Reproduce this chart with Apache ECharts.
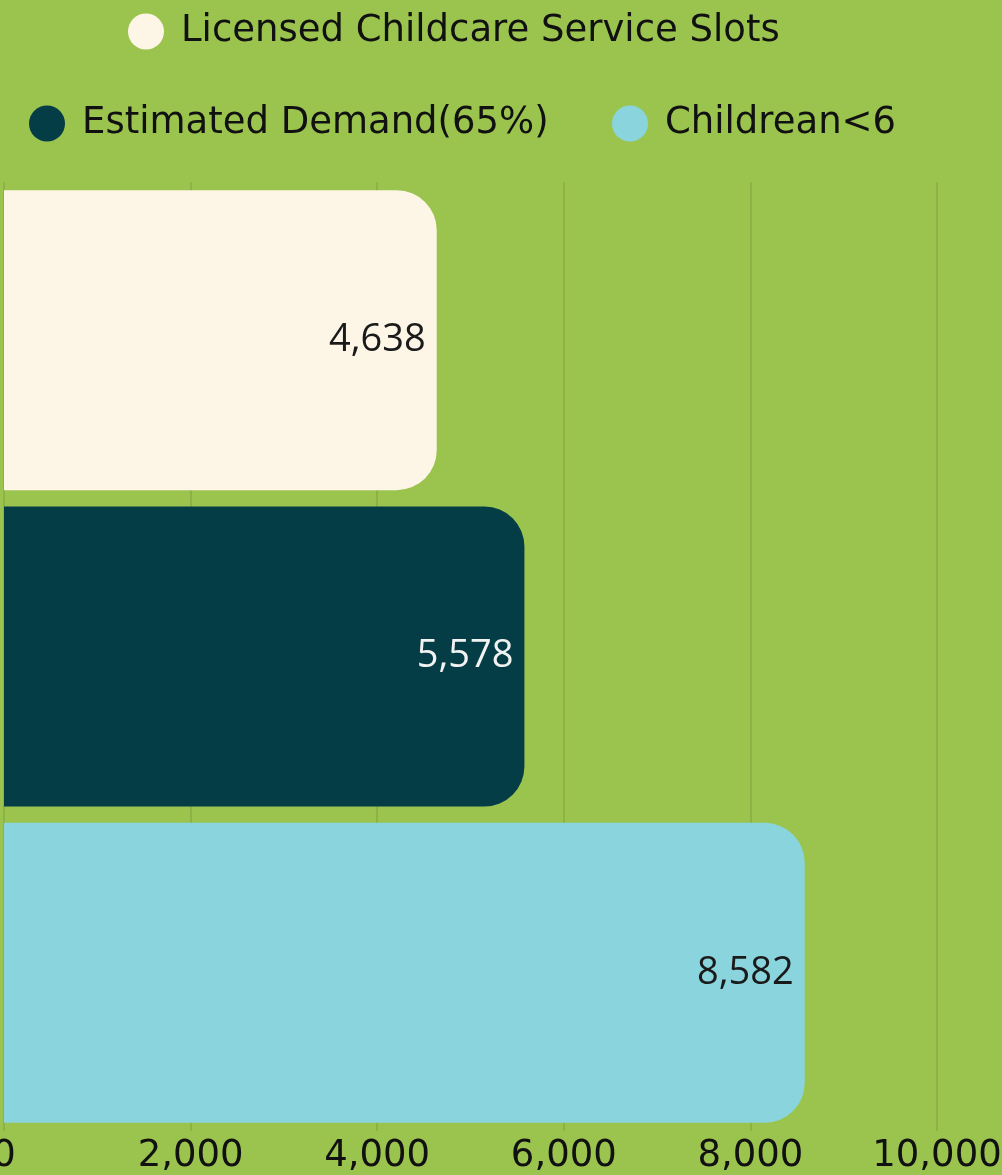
<!DOCTYPE html>
<html>
<head>
<meta charset="utf-8">
<script src="https://cdn.jsdelivr.net/npm/echarts@6/dist/echarts.min.js"></script>
<style>
  html, body { margin: 0; padding: 0; background: #9bc44f; }
  #chart { width: 1002px; height: 1175px; }
</style>
</head>
<body>
<div id="chart"></div>
<script>
const categories = ["Licensed Childcare Service Slots", "Estimated Demand(65%)", "Childrean<6"];
const values = [4638, 5578, 8582];
const barColors = ["#fdf6e7", "#053d47", "#8ad4de"];
const labelColors = ["#1a1a1a", "#f2f2f2", "#1a1a1a"];
const xTicks = { min: 0, max: 10000, interval: 2000 };

const WIDE_FONT = "'DejaVu Sans', sans-serif";
const LABEL_FONT = "'Open Sans', 'Noto Sans', sans-serif";

function fmt(v) {
  return Number(v).toLocaleString("en-US");
}

// one series per category so each gets its own legend entry
const series = categories.map((name, i) => {
  const data = categories.map((_, j) => (j === i ? values[i] : null));
  return {
    name,
    type: "bar",
    stack: "all",
    barWidth: 300,
    data,
    itemStyle: { color: barColors[i], borderRadius: [0, 40, 40, 0] },
    label: {
      show: true,
      position: "insideRight",
      distance: 11,
      color: labelColors[i],
      fontFamily: LABEL_FONT,
      fontSize: 38,
      formatter: (p) => fmt(p.value)
    }
  };
});

// legend rows are placed by hand, one legend per item
const legendSpots = [
  { left: 128, top: 13 },
  { left: 29, top: 105 },
  { left: 612, top: 105 }
];
const legend = categories.map((name, i) => ({
  data: [name],
  left: legendSpots[i].left,
  top: legendSpots[i].top,
  padding: 0,
  icon: "circle",
  itemWidth: 36,
  itemHeight: 36,
  textStyle: {
    fontFamily: WIDE_FONT,
    fontSize: 37,
    color: "#111",
    padding: [0, 0, 0, 12]
  }
}));

const chart = echarts.init(document.getElementById("chart"));
chart.setOption({
  backgroundColor: "#9bc44f",
  animation: false,
  legend,
  grid: { left: 4, right: 65, top: 182, bottom: 44, containLabel: false, outerBoundsMode: "none" },
  xAxis: {
    type: "value",
    min: xTicks.min,
    max: xTicks.max,
    interval: xTicks.interval,
    axisLine: { show: false },
    axisTick: { show: false },
    splitLine: { show: true, lineStyle: { color: "#8db246", width: 2 } },
    axisLabel: {
      margin: 7,
      color: "#111",
      fontFamily: WIDE_FONT,
      fontSize: 37,
      formatter: (v) => fmt(v)
    }
  },
  yAxis: {
    type: "category",
    inverse: true,
    data: categories,
    axisLine: { show: false },
    axisTick: { show: false },
    axisLabel: { show: false }
  },
  series
});
</script>
</body>
</html>
